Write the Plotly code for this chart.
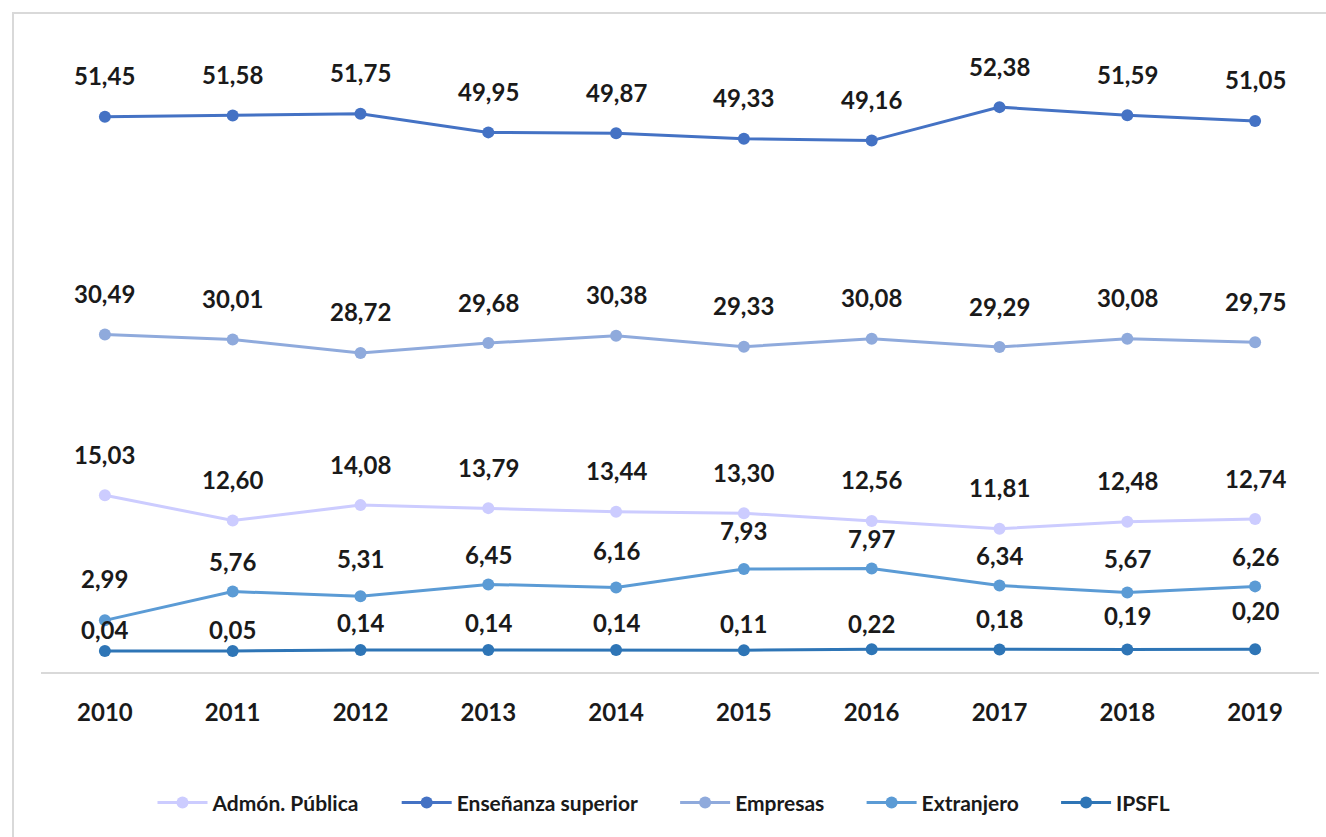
import plotly.graph_objects as go

years = [2010, 2011, 2012, 2013, 2014, 2015, 2016, 2017, 2018, 2019]

admon = [15.03, 12.60, 14.08, 13.79, 13.44, 13.30, 12.56, 11.81, 12.48, 12.74]
ensenanza = [51.45, 51.58, 51.75, 49.95, 49.87, 49.33, 49.16, 52.38, 51.59, 51.05]
empresas = [30.49, 30.01, 28.72, 29.68, 30.38, 29.33, 30.08, 29.29, 30.08, 29.75]
extranjero = [2.99, 5.76, 5.31, 6.45, 6.16, 7.93, 7.97, 6.34, 5.67, 6.26]
ipsfl = [0.04, 0.05, 0.14, 0.14, 0.14, 0.11, 0.22, 0.18, 0.19, 0.20]

series = [
    ("Admón. Pública", admon, "#CCCCFF"),
    ("Enseñanza superior", ensenanza, "#4472C4"),
    ("Empresas", empresas, "#8FAADC"),
    ("Extranjero", extranjero, "#5B9BD5"),
    ("IPSFL", ipsfl, "#2E75B6"),
]

# label offsets (px above the point), Excel places some of them by hand
shifts = {
    "Extranjero": [42, 30, 38, 30, 37, 39, 30, 30, 34, 30],
    "IPSFL": [22, 21, 27, 27, 27, 27, 26, 31, 34, 39],
}

FONT = "Lato"

fig = go.Figure()
annotations = []
for name, vals, color in series:
    fig.add_trace(go.Scatter(
        x=years, y=vals, name=f"<b>{name}</b>" + "\u00a0" * 6, mode="lines+markers",
        line=dict(color=color, width=3),
        marker=dict(color=color, size=12),
    ))
    sh = shifts.get(name, [41] * len(vals))
    for x, v, s in zip(years, vals, sh):
        annotations.append(dict(
            x=x, y=v, xref="x", yref="y",
            text="<b>" + f"{v:.2f}".replace(".", ",") + "</b>",
            showarrow=False, yshift=s, yanchor="middle",
            font=dict(family=FONT, size=24, color="#1a1a1a"),
        ))

fig.update_layout(
    width=1326, height=837,
    margin=dict(l=41, r=7, t=40, b=165, autoexpand=False),
    paper_bgcolor="white", plot_bgcolor="white",
    annotations=annotations,
    showlegend=True,
    legend=dict(
        orientation="h", x=0.5, xanchor="center", y=-0.207, yanchor="middle",
        font=dict(family=FONT, size=21, color="#1a1a1a"),
        itemwidth=50,
    ),
    xaxis=dict(
        range=[2009.5, 2019.5], tickmode="array", tickvals=years,
        ticktext=[f"<b>{y}</b>" for y in years],
        showgrid=False, zeroline=False, showline=True, linecolor="#d9d9d9", linewidth=2,
        ticks="outside", ticklen=18, tickcolor="rgba(0,0,0,0)",
        tickfont=dict(family=FONT, size=24, color="#1a1a1a"),
    ),
    yaxis=dict(
        range=[-1.98, 58.84], showgrid=False, zeroline=False,
        showticklabels=False, showline=False,
    ),
    shapes=[dict(
        type="rect", xref="paper", yref="paper",
        x0=-0.0219, x1=1.2, y0=-0.5, y1=1.0427,
        line=dict(color="#d9d9d9", width=2), fillcolor="rgba(0,0,0,0)",
        layer="below",
    )],
)

fig.write_html("out.html", config={"displayModeBar": False},
               post_script="document.body.style.margin='0';")
